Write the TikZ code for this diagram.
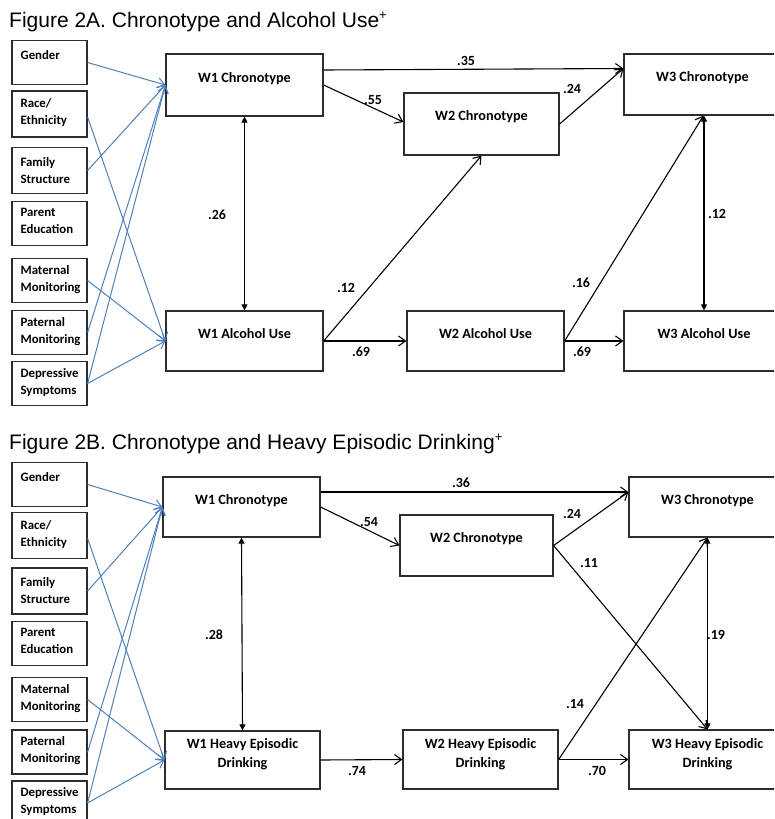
\documentclass[tikz,border=0pt]{standalone}
\usepackage{fontspec}
\setmainfont{Liberation Sans}
\newfontfamily\carl{Carlito}
\usetikzlibrary{arrows.meta,calc}
\definecolor{blueA}{RGB}{79,129,189}
\definecolor{boxgray}{RGB}{45,45,45}
\begin{document}
\begin{tikzpicture}[x=1pt,y=-1pt,
  box/.style={draw=boxgray, line width=1.2pt, inner sep=0pt, minimum width=75pt, minimum height=44pt},
  mbox/.style={draw=boxgray, line width=1.2pt, inner sep=0pt},
  ltxt/.style={font=\carl\bfseries\fontsize{12.8}{17}\selectfont, align=left, inner sep=0pt, anchor=north west},
  mtxt/.style={font=\carl\bfseries\fontsize{14.2}{19}\selectfont, align=center, inner sep=0pt},
  coef/.style={font=\carl\bfseries\fontsize{14}{16}\selectfont, inner sep=0pt},
  cov/.style={draw=blueA, line width=1pt, -{Straight Barb[length=7pt,width=10pt]}},
  pth/.style={draw=black, line width=1.1pt, -{Straight Barb[length=7pt,width=10pt]}},
  cor/.style={draw=black, line width=1.1pt, {Triangle[length=6pt,width=6pt]}-{Triangle[length=6pt,width=6pt]}},
  ttl/.style={font=\fontsize{21}{24}\selectfont, anchor=base west, inner sep=0pt}]
\useasboundingbox (0,0) rectangle (774,819);
\clip (0,0) rectangle (774,819);
\fill[white] (0,0) rectangle (774,819);

% ---------------- Figure 2A ----------------
\node[ttl] (tA) at (9,27.5) {Figure 2A. Chronotype and Alcohol Use\textsuperscript{\fontsize{13}{13}\selectfont +}};

\node[box] (gA) at (49.5,62.5) {};
\node[box, minimum height=46pt] (rA) at (49.5,114) {};
\node[box, minimum height=46pt] (fA) at (49.5,170.5) {};
\node[box] (pA) at (49.5,223.5) {};
\node[box] (mA) at (49.5,280.5) {};
\node[box] (paA) at (49.5,332.5) {};
\node[box] (dA) at (49.5,383.5) {};
\node[ltxt] (gAt) at ([xshift=9pt,yshift=-10pt]gA.north west) {Gender};
\node[ltxt] (rAt) at ([xshift=9pt,yshift=-8pt]rA.north west) {Race/\\Ethnicity};
\node[ltxt] (fAt) at ([xshift=9pt,yshift=-10pt]fA.north west) {Family\\Structure};
\node[ltxt] (pAt) at ([xshift=9pt,yshift=-7pt]pA.north west) {Parent\\Education};
\node[ltxt] (mAt) at ([xshift=9pt,yshift=-7pt]mA.north west) {Maternal\\Monitoring};
\node[ltxt] (paAt) at ([xshift=9pt,yshift=-7pt]paA.north west) {Paternal\\Monitoring};
\node[ltxt] (dAt) at ([xshift=9pt,yshift=-7pt]dA.north west) {Depressive\\Symptoms};

\node[mbox, minimum width=157pt, minimum height=62pt] (a1c) at (244.5,85) {};
\node[mbox, minimum width=157pt, minimum height=60pt] (a1a) at (244.5,341) {};
\node[mbox, minimum width=155pt, minimum height=62pt] (a2c) at (481.5,124) {};
\node[mbox, minimum width=157pt, minimum height=60pt] (a2a) at (485.5,341) {};
\node[mbox, minimum width=157pt, minimum height=61pt] (a3c) at (702.5,84.5) {};
\node[mbox, minimum width=157pt, minimum height=60pt] (a3a) at (702.5,341) {};
\node[mtxt] (a1ct) at ([yshift=6pt]a1c.center) {W1 Chronotype};
\node[mtxt] (a1at) at ([yshift=7pt]a1a.center) {W1 Alcohol Use};
\node[mtxt] (a2ct) at ([yshift=7pt]a2c.center) {W2 Chronotype};
\node[mtxt] (a2at) at ([yshift=7pt]a2a.center) {W2 Alcohol Use};
\node[mtxt] (a3ct) at ([yshift=6.5pt]a3c.center) {W3 Chronotype};
\node[mtxt] (a3at) at ([yshift=7pt,xshift=1.5pt]a3a.center) {W3 Alcohol Use};

\draw[cov] (gA.east) -- (a1c.west);
\draw[cov] ([yshift=-3pt]rA.east) -- (a1a.west);
\draw[cov] (fA.east) -- (a1c.west);
\draw[cov] (mA.east) -- (a1a.west);
\draw[cov] (paA.east) -- (a1c.west);
\draw[cov] (dA.east) -- (a1c.west);
\draw[cov] (dA.east) -- (a1a.west);

\draw[pth] ([yshift=15pt]a1c.east) -- ([yshift=16pt]a3c.west);
\draw[pth] (a1c.east) -- ([yshift=2pt]a2c.west);
\draw[pth] (a2c.east) -- ([yshift=16pt]a3c.west);
\draw[pth] (a1a.east) -- (a2c.south);
\draw[pth] (a1a.east) -- (a2a.west);
\draw[pth] (a2a.east) -- (a3a.west);
\draw[pth] (a2a.east) -- ([xshift=1pt]a3c.south);
\draw[cor] (a1c.south) -- (a1a.north);
\draw[cor] ([xshift=1.5pt]a3c.south) -- ([xshift=1.5pt]a3a.north);

\node[coef] (cA1) at (466,61) {.35};
\node[coef] (cA2) at (373,100) {.55};
\node[coef] (cA3) at (572,89) {.24};
\node[coef] (cA4) at (346,288) {.12};
\node[coef] (cA5) at (361,352) {.69};
\node[coef] (cA6) at (582,352) {.69};
\node[coef] (cA7) at (581,283) {.16};
\node[coef] (cA8) at (217,215) {.26};
\node[coef] (cA9) at (717,214) {.12};

% ---------------- Figure 2B ----------------
\node[ttl] (tB) at (9,449.5) {Figure 2B. Chronotype and Heavy Episodic Drinking\textsuperscript{\fontsize{13}{13}\selectfont +}};

\node[box] (gB) at (49.5,484.5) {};
\node[box, minimum height=46pt] (rB) at (49.5,535.5) {};
\node[box, minimum height=46pt] (fB) at (49.5,591) {};
\node[box] (pB) at (49.5,643.5) {};
\node[box] (mB) at (49.5,699.5) {};
\node[box] (paB) at (49.5,752) {};
\node[box] (dB) at (49.5,803) {};
\node[ltxt] (gBt) at ([xshift=9pt,yshift=-10pt]gB.north west) {Gender};
\node[ltxt] (rBt) at ([xshift=9pt,yshift=-8pt]rB.north west) {Race/\\Ethnicity};
\node[ltxt] (fBt) at ([xshift=9pt,yshift=-10pt]fB.north west) {Family\\Structure};
\node[ltxt] (pBt) at ([xshift=9pt,yshift=-7pt]pB.north west) {Parent\\Education};
\node[ltxt] (mBt) at ([xshift=9pt,yshift=-7pt]mB.north west) {Maternal\\Monitoring};
\node[ltxt] (paBt) at ([xshift=9pt,yshift=-7pt]paB.north west) {Paternal\\Monitoring};
\node[ltxt] (dBt) at ([xshift=9pt,yshift=-7pt]dB.north west) {Depressive\\Symptoms};

\node[mbox, minimum width=157pt, minimum height=60pt] (b1c) at (241.5,507) {};
\node[mbox, minimum width=155pt, minimum height=58pt] (b1h) at (242.5,760) {};
\node[mbox, minimum width=153pt, minimum height=61pt] (b2c) at (476.5,545.5) {};
\node[mbox, minimum width=155pt, minimum height=59pt] (b2h) at (480.5,759.5) {};
\node[mbox, minimum width=157pt, minimum height=60pt] (b3c) at (707.5,507) {};
\node[mbox, minimum width=157pt, minimum height=59pt] (b3h) at (707.5,759.5) {};
\node[mtxt] (b1ct) at ([yshift=6pt]b1c.center) {W1 Chronotype};
\node[mtxt] (b1ht) at ([yshift=5.5pt]b1h.center) {W1 Heavy Episodic\\Drinking};
\node[mtxt] (b2ct) at ([yshift=6.5pt]b2c.center) {W2 Chronotype};
\node[mtxt] (b2ht) at ([yshift=5.5pt]b2h.center) {W2 Heavy Episodic\\Drinking};
\node[mtxt] (b3ct) at ([yshift=6pt]b3c.center) {W3 Chronotype};
\node[mtxt] (b3ht) at ([yshift=5.5pt]b3h.center) {W3 Heavy Episodic\\Drinking};

\draw[cov] (gB.east) -- (b1c.west);
\draw[cov] ([yshift=-3pt]rB.east) -- (b1h.west);
\draw[cov] (fB.east) -- (b1c.west);
\draw[cov] (mB.east) -- (b1h.west);
\draw[cov] (paB.east) -- (b1c.west);
\draw[cov] (dB.east) -- (b1c.west);
\draw[cov] (dB.east) -- (b1h.west);

\draw[pth] ([yshift=15pt]b1c.east) -- ([yshift=15pt]b3c.west);
\draw[pth] (b1c.east) -- (b2c.west);
\draw[pth] (b2c.east) -- ([yshift=15pt]b3c.west);
\draw[pth] (b2c.east) -- (b3h.north);
\draw[pth] (b1h.east) -- (b2h.west);
\draw[pth] (b2h.east) -- (b3h.west);
\draw[pth] (b2h.east) -- (b3c.south);
\draw[cor] (b1c.south) -- (b1h.north);
\draw[cor] (b3c.south) -- (b3h.north);

\node[coef] (cB1) at (461,483) {.36};
\node[coef] (cB2) at (369,522) {.54};
\node[coef] (cB3) at (572,514) {.24};
\node[coef] (cB4) at (589,563) {.11};
\node[coef] (cB5) at (357,771) {.74};
\node[coef] (cB6) at (597,771) {.70};
\node[coef] (cB7) at (575,704) {.14};
\node[coef] (cB8) at (214,635) {.28};
\node[coef] (cB9) at (716,635) {.19};
\end{tikzpicture}
\end{document}
